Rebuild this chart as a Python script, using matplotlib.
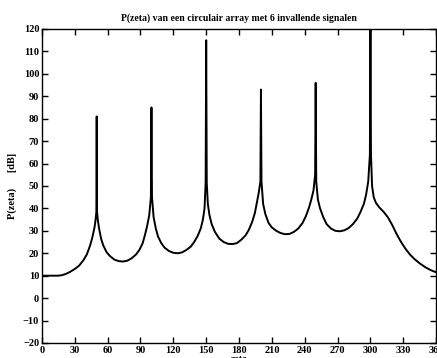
import matplotlib
matplotlib.use("Agg")
import matplotlib.pyplot as plt

# P(zeta) in dB
zeta = [0, 5, 10, 15, 18, 22, 26, 30, 34, 38, 41, 44, 46, 48, 49, 49.7, 50, 50.3, 51, 52, 54, 56, 59, 62, 66, 70,
        74, 78, 82, 86, 89, 92, 94, 96, 98, 99.5, 100, 100.5, 102, 104, 106, 109, 112, 116, 120, 124, 128, 132,
        136, 139, 142, 145, 147, 148.5, 149.5, 150, 150.5, 151.5, 153, 155, 158, 162, 166, 170, 174, 178, 182,
        186, 189, 192, 194.5, 196.5, 198, 199.5, 200, 200.5, 202, 204, 207, 210, 214, 218, 222, 226, 230, 234,
        238, 241, 244, 246, 248, 249.5, 250, 250.5, 252, 254, 257, 260, 264, 268, 272, 276, 280, 284, 288, 291,
        294, 296, 298, 299.5, 300, 300.5, 301.5, 303, 305, 308, 312, 316, 320, 324, 328, 332, 336, 340, 345,
        350, 355, 360]
p_db = [10, 10, 10, 10, 10.2, 10.8, 11.8, 13, 14.5, 17, 19.5, 23.5, 27, 31.5, 35, 38.5, 81, 38.5, 35, 31.5, 26.5,
        23.5, 20.5, 18.8, 17.2, 16.5, 16.3, 16.7, 17.8, 19.5, 21.5, 24.5, 28, 32, 37, 45, 85, 45, 36, 31, 27.5,
        24.5, 22.5, 21, 20.2, 20, 20.4, 21.5, 23, 25, 27.5, 31, 35, 40, 51.5, 115, 51.5, 42, 37, 33, 29.5, 26.5,
        25, 24.2, 24.1, 24.5, 26, 28, 30.5, 34, 38, 43, 47, 52, 93, 52, 42, 37.5, 33.5, 31.5, 30, 29, 28.5, 28.6,
        29.5, 31, 33.5, 36.5, 40.5, 44, 48, 55, 96, 52, 44, 40, 36, 33, 31, 30, 29.8, 30.2, 31.2, 33, 35.5, 38.5,
        42, 46, 52, 64, 120, 64, 50, 45, 42.5, 40.5, 38.5, 36, 32.5, 28.5, 25, 22, 19.5, 17.5, 15.5, 13.8, 12.5,
        11.5]

x_ticks = list(range(0, 361, 30))
y_ticks = list(range(-20, 121, 10))

plt.rcParams['font.family'] = ['Liberation Serif', 'DejaVu Serif']

fig = plt.figure(figsize=(4.37, 3.58), dpi=100)
ax = fig.add_axes([0.096, 0.042, 0.902, 0.877])

ax.plot(zeta, p_db, color='black', lw=1.4)

ax.set_xlim(0, 360)
ax.set_ylim(-20, 120)
ax.set_xticks(x_ticks)
ax.set_yticks(y_ticks)
ax.tick_params(direction='in', length=4, width=1, top=True, right=True,
               labelsize=7.5, pad=2)
for lbl in ax.get_xticklabels() + ax.get_yticklabels():
    lbl.set_fontweight('bold')
for s in ax.spines.values():
    s.set_linewidth(1.0)

ax.set_title('P(zeta) van een circulair array met 6 invallende signalen',
             fontsize=7, fontweight='bold', pad=6)
ax.set_xlabel('zeta', fontsize=7, fontweight='bold', labelpad=0)
ax.set_ylabel('P(zeta)      [dB]', fontsize=7.5, fontweight='bold', labelpad=4)

fig.savefig('out.png', dpi=100)
